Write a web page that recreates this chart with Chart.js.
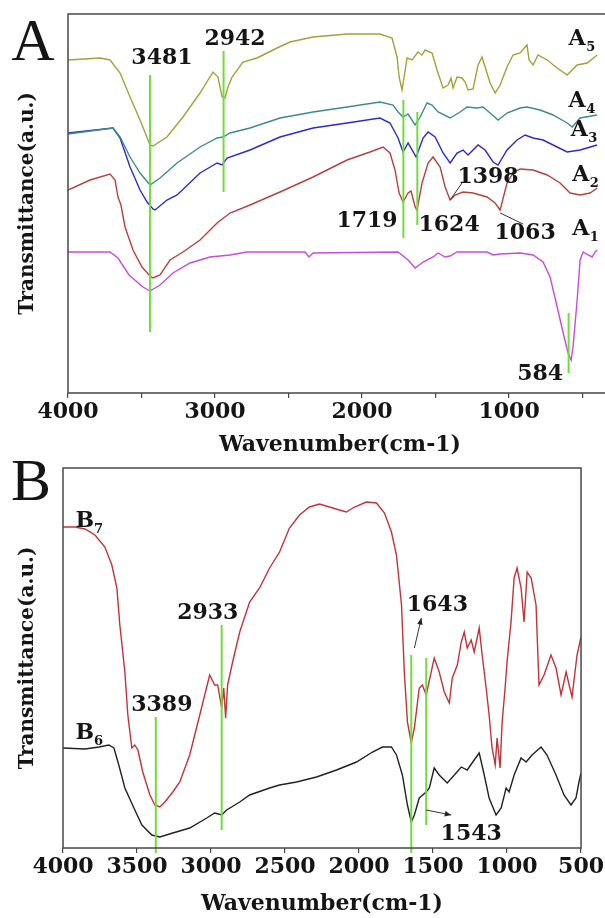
<!DOCTYPE html>
<html><head><meta charset="utf-8">
<script src="https://cdn.jsdelivr.net/npm/chart.js@4.4.1/dist/chart.umd.min.js"></script>
<style>
html,body{margin:0;padding:0;background:#fff;width:605px;height:918px;overflow:hidden;position:relative}
canvas{position:absolute;left:0}
#ca{top:0}
#cb{top:440px}
</style></head><body>
<canvas id="ca" width="625" height="465"></canvas>
<canvas id="cb" width="605" height="478"></canvas>
<script>
// ---------- Panel A data (wavenumber cm-1, transmittance a.u.) ----------
const xTicksA = [4000,3500,3000,2500,2000,1500,1000,500];
const xLabelsA = ['4000','','3000','','2000','','1000',''];

const a5Wn = [4000,3782,3714,3646,3578,3510,3442,3422,3327,3218,3102,3014,2980,2952,2932,2912,2884,2810,2714,2578,2490,2333,2102,1878,1796,1762,1748,1728,1714,1694,1660,1619,1592,1571,1524,1490,1449,1415,1395,1381,1354,1320,1299,1279,1245,1211,1184,1163,1129,1095,1061,1014,973,925,878,864,837,803,741,673,605,537,469,401];
const a5T  = [333,335,333,320,296,273,248,247,256,276,300,321,316,296,295,306,316,331,335,345,351,356,359,359,355,336,316,303,316,335,333,341,338,343,340,323,305,308,315,305,316,315,311,303,304,328,336,326,310,300,308,326,338,340,348,333,328,338,333,325,318,328,330,338];

const a4Wn = [4000,3694,3646,3578,3510,3442,3374,3258,3102,2986,2946,2898,2762,2558,2333,2102,1878,1789,1755,1721,1687,1639,1605,1558,1524,1483,1401,1333,1286,1218,1177,1129,1075,1014,925,878,789,701,605,571,517,401];
const a4T  = [259,265,256,236,220,208,215,230,246,255,256,260,265,275,281,286,291,288,281,276,279,268,276,290,288,281,275,281,286,285,286,280,273,280,285,286,283,278,270,266,275,278];

const a3Wn = [4000,3694,3646,3578,3510,3462,3422,3408,3327,3258,3102,2986,2952,2918,2762,2558,2333,2102,1878,1810,1755,1721,1687,1632,1585,1551,1503,1449,1401,1354,1313,1279,1211,1163,1109,1075,1014,946,891,837,769,673,605,517,401];
const a3T  = [260,265,255,226,203,191,184,183,193,198,220,230,228,235,243,256,265,270,275,270,255,241,250,236,255,261,256,240,230,240,243,238,248,243,231,228,243,253,258,255,253,246,241,243,248];

const a2Wn = [4000,3850,3714,3680,3660,3640,3612,3558,3497,3442,3422,3374,3306,3218,3102,2986,2898,2762,2558,2333,2102,1946,1857,1810,1776,1748,1721,1687,1667,1639,1626,1592,1551,1517,1469,1435,1401,1367,1313,1245,1150,1095,1061,1014,973,925,837,741,653,585,517,449,401];
const a2T  = [203,213,219,213,196,188,166,143,126,117,115,118,133,141,153,170,180,188,201,216,233,241,246,240,223,200,191,200,202,186,183,210,230,236,226,206,193,198,201,200,196,190,183,210,220,224,223,218,210,200,198,200,205];

const a1Wn = [4000,3714,3660,3585,3490,3442,3374,3286,3170,3034,2898,2782,2388,2361,2333,1755,1687,1639,1585,1517,1483,1435,1401,1354,1150,1109,1061,925,837,769,721,673,632,599,578,565,537,517,496,462,435,415,401];
const a1T  = [141,141,135,118,106,102,108,120,130,136,138,141,141,136,140,141,133,125,131,136,140,136,137,141,141,138,139,140,138,131,116,86,60,40,33,46,93,133,141,138,136,141,143];

const markerAWn  = [3442,2942,1719,1624,595];
const markerATop = [318,342,293,281,80];
const markerABot = [61,201,155,168,20];

const peakTextA = ['3481','2942','1719','1624','1398','1063','584'];

// ---------- Panel B data ----------
const xTicksB = [4000,3500,3000,2500,2000,1500,1000,500];
const xLabelsB = ['4000','3500','3000','2500','2000','1500','1000','500'];

const b7Wn = [4000,3980,3919,3852,3784,3717,3670,3636,3616,3582,3562,3535,3515,3494,3461,3413,3380,3346,3312,3258,3211,3144,3076,3009,2975,2955,2928,2914,2901,2888,2854,2806,2739,2672,2604,2537,2470,2402,2335,2267,2200,2132,2085,2031,1950,1882,1828,1781,1747,1713,1694,1673,1647,1626,1593,1572,1546,1492,1458,1424,1390,1370,1336,1309,1289,1269,1242,1222,1188,1168,1141,1121,1101,1080,1067,1047,1033,1013,1000,973,952,932,905,885,864,837,804,784,750,703,669,635,601,561,527,500];
const b7T  = [321,321,321,319,313,301,283,260,223,176,133,100,103,98,76,53,43,41,46,56,66,93,133,173,163,163,140,160,130,163,186,216,246,260,280,296,320,333,341,344,341,338,336,341,346,345,335,316,293,243,176,126,105,120,160,163,153,190,176,156,145,170,183,206,216,200,208,196,220,193,160,133,100,83,110,80,126,160,186,226,270,280,260,226,276,270,243,163,173,193,180,153,176,151,193,211];

const b6Wn = [4000,3852,3757,3690,3656,3623,3582,3521,3467,3400,3346,3258,3144,3029,2975,2928,2894,2806,2739,2604,2537,2422,2287,2152,2017,1909,1842,1781,1747,1707,1673,1647,1626,1593,1546,1525,1492,1458,1404,1356,1309,1269,1222,1188,1154,1121,1074,1040,1006,986,952,905,871,831,770,730,669,615,568,534,514,500];
const b6T  = [100,99,101,103,100,83,60,40,23,13,11,15,20,30,35,33,38,46,53,60,63,66,71,78,86,96,101,101,93,73,43,26,33,50,56,60,80,73,65,73,81,78,88,95,73,50,33,40,60,56,73,90,86,93,101,93,73,53,43,50,66,75];

const markerBWn  = [3373,2928,1647,1546];
const markerBTop = [131,223,193,190];
const markerBBot = [-5,18,-5,23];

const peakTextB = ['3389','2933','1643','1543'];

// ---------- helpers ----------
const SERIF = "'DejaVu Serif', serif";
const GREEN = '#72dc3c';
const pts = (w, t) => w.map((x, i) => ({x, y: t[i]}));
const lineDs = (label, w, t, color) => ({label, data: pts(w, t), borderColor: color, borderWidth: 1.4, pointRadius: 0, tension: 0, fill: false});
const markerDs = (w, top, bot) => w.map((x, i) => ({label: 'marker', data: [{x, y: top[i]}, {x, y: bot[i]}], borderColor: GREEN, borderWidth: 2, pointRadius: 0, clip: false}));

const annotPlugin = {
  id: 'annot',
  afterDatasetsDraw(chart, args, opts) {
    const {ctx, chartArea: a, scales: {x, y}} = chart;
    const px = w => x.getPixelForValue(w), py = v => y.getPixelForValue(v);
    ctx.save();
    ctx.strokeStyle = '#474747'; ctx.lineWidth = 1.5;
    ctx.strokeRect(a.left, a.top, a.right - a.left, a.bottom - a.top);
    ctx.strokeStyle = '#333'; ctx.fillStyle = '#222'; ctx.lineWidth = 1;
    for (const p of opts.pointers || []) {
      const x1 = px(p.from[0]), y1 = py(p.from[1]), x2 = px(p.to[0]), y2 = py(p.to[1]);
      ctx.beginPath(); ctx.moveTo(x1, y1); ctx.lineTo(x2, y2); ctx.stroke();
      if (p.head) {
        const ang = Math.atan2(y2 - y1, x2 - x1), L = 7;
        ctx.beginPath(); ctx.moveTo(x2, y2);
        ctx.lineTo(x2 - L * Math.cos(ang - 0.4), y2 - L * Math.sin(ang - 0.4));
        ctx.lineTo(x2 - L * Math.cos(ang + 0.4), y2 - L * Math.sin(ang + 0.4));
        ctx.closePath(); ctx.fill();
      }
    }
    ctx.fillStyle = '#151515';
    ctx.textAlign = 'center'; ctx.textBaseline = 'middle';
    ctx.font = "bold 22px " + SERIF;
    for (const t of opts.peaks || []) ctx.fillText(t.text, px(t.at[0]), py(t.at[1]));
    for (const s of opts.series || []) {
      const cx = px(s.at[0]), cy = py(s.at[1]);
      ctx.font = "bold 22px " + SERIF; ctx.textAlign = 'center';
      ctx.fillText(s.name[0], cx, cy);
      ctx.font = "bold 13px " + SERIF; ctx.textAlign = 'left';
      ctx.fillText(s.name.slice(1), cx + 9, cy + 9);
    }
    if (opts.panel) {
      ctx.font = "60px 'Liberation Serif', serif";
      ctx.textAlign = 'center'; ctx.textBaseline = 'alphabetic';
      ctx.fillText(opts.panel.text, opts.panel.x, opts.panel.y);
    }
    ctx.restore();
  }
};

function makeOptions(cfg) {
  return {
    responsive: false, animation: false, devicePixelRatio: 1,
    layout: {padding: cfg.padding},
    plugins: {legend: {display: false}, tooltip: {enabled: false}, annot: cfg.annot},
    scales: {
      x: {
        type: 'linear', reverse: true, min: cfg.xmin, max: cfg.xmax,
        afterBuildTicks: s => { s.ticks = cfg.ticks.map(v => ({value: v})); },
        afterFit: s => { s.height = cfg.xh; },
        ticks: {callback: (v, i) => cfg.labels[i], font: {family: SERIF, weight: 'bold', size: 22}, color: '#151515', padding: 1, maxRotation: 0, autoSkip: false},
        grid: {display: true, drawOnChartArea: false, drawTicks: true, tickLength: 5, color: '#474747', lineWidth: 1.2},
        border: {display: false},
        title: {display: true, text: 'Wavenumber(cm-1)', font: {family: SERIF, weight: 'bold', size: 22}, color: '#151515', padding: {top: 0, bottom: cfg.titlePad}}
      },
      y: {
        min: cfg.ymin, max: cfg.ymax,
        afterFit: s => { s.width = cfg.yw; },
        ticks: {display: false}, grid: {display: false, drawTicks: false}, border: {display: false},
        title: {display: true, text: 'Transmittance(a.u.)', font: {family: SERIF, weight: 'bold', size: 20}, color: '#151515', padding: {top: 16, bottom: 0}}
      }
    }
  };
}

new Chart(document.getElementById('ca'), {
  type: 'line',
  data: {datasets: [
    ...markerDs(markerAWn, markerATop, markerABot),
    lineDs('A5', a5Wn, a5T, '#a3a13a'),
    lineDs('A4', a4Wn, a4T, '#3f8a8a'),
    lineDs('A3', a3Wn, a3T, '#2b2bcc'),
    lineDs('A2', a2Wn, a2T, '#b5423f'),
    lineDs('A1', a1Wn, a1T, '#c24fd8')
  ]},
  options: makeOptions({
    padding: {left: 0, top: 14, right: 13, bottom: 0}, xmin: 300, xmax: 4000, ymin: 0, ymax: 379,
    ticks: xTicksA, labels: xLabelsA, xh: 72, yw: 68, titlePad: 7,
    annot: {
      peaks: [
        {text: peakTextA[0], at: [3361, 335]}, {text: peakTextA[1], at: [2864, 354]},
        {text: peakTextA[2], at: [1966, 172]}, {text: peakTextA[3], at: [1408, 168]},
        {text: peakTextA[4], at: [1143, 216]}, {text: peakTextA[5], at: [891, 160]},
        {text: peakTextA[6], at: [789, 19]}
      ],
      series: [
        {name: 'A5', at: [537, 354]}, {name: 'A4', at: [537, 292]}, {name: 'A3', at: [523, 263]},
        {name: 'A2', at: [513, 218]}, {name: 'A1', at: [513, 164]}
      ],
      pointers: [
        {from: [1401, 193], to: [1320, 210]},
        {from: [1061, 180], to: [905, 169]}
      ],
      panel: {text: 'A', x: 33, y: 60}
    }
  }),
  plugins: [annotPlugin]
});

new Chart(document.getElementById('cb'), {
  type: 'line',
  data: {datasets: [
    ...markerDs(markerBWn, markerBTop, markerBBot),
    lineDs('B7', b7Wn, b7T, '#c0333a'),
    lineDs('B6', b6Wn, b6T, '#222222')
  ]},
  options: makeOptions({
    padding: {left: 0, top: 28, right: 23, bottom: 0}, xmin: 500, xmax: 4000, ymin: 0, ymax: 380,
    ticks: xTicksB, labels: xLabelsB, xh: 70, yw: 63, titlePad: 1,
    annot: {
      peaks: [
        {text: peakTextB[0], at: [3332, 143]}, {text: peakTextB[1], at: [3022, 235]},
        {text: peakTextB[2], at: [1471, 243]}, {text: peakTextB[3], at: [1242, 14]}
      ],
      series: [
        {name: 'B7', at: [3852, 327]}, {name: 'B6', at: [3852, 115]}
      ],
      pointers: [
        {from: [1626, 200], to: [1579, 230], head: true},
        {from: [1546, 38], to: [1377, 33], head: true}
      ],
      panel: {text: 'B', x: 31, y: 60}
    }
  }),
  plugins: [annotPlugin]
});
</script>
</body></html>
